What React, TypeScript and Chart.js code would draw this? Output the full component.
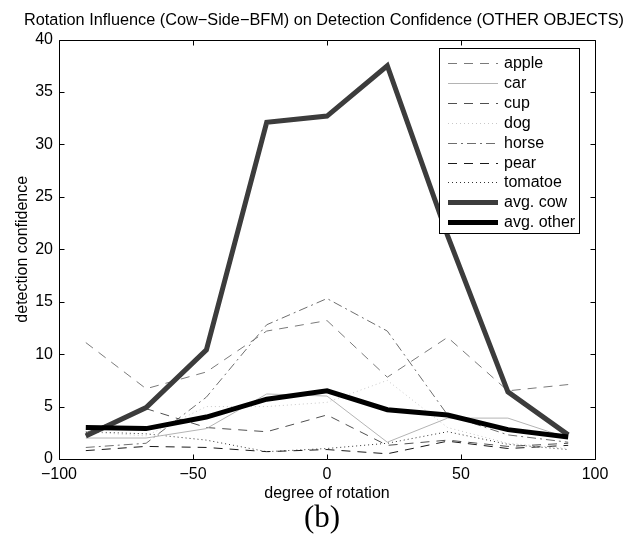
import React, { useEffect, useRef } from "react";
import { Chart, registerables } from "chart.js";

Chart.register(...registerables);

const angles = [-90, -67.5, -45, -22.5, 0, 22.5, 45, 67.5, 90];
const apple = [11.1, 6.7, 8.3, 12.2, 13.2, 7.8, 11.6, 6.5, 7.1];
const car = [2.0, 2.0, 2.9, 6.2, 6.0, 1.6, 3.9, 3.9, 2.0];
const cup = [2.5, 4.8, 3.0, 2.6, 4.2, 1.3, 1.8, 1.2, 1.5];
const dog = [2.6, 2.2, 5.0, 5.0, 5.4, 7.5, 3.0, 1.5, 1.0];
const horse = [1.1, 1.5, 5.9, 12.8, 15.3, 12.2, 4.2, 2.3, 1.6];
const pear = [0.8, 1.2, 1.1, 0.7, 0.9, 0.5, 1.7, 1.0, 1.3];
const tomatoe = [2.6, 2.4, 1.8, 0.7, 1.0, 1.5, 2.6, 1.4, 0.9];
const avgCow = [2.2, 4.9, 10.4, 32.1, 32.7, 37.5, 21.3, 6.4, 2.3];
const avgOther = [3.0, 2.9, 4.0, 5.7, 6.5, 4.7, 4.2, 2.8, 2.1];

const xTicks = [-100, -50, 0, 50, 100];
const yTicks = [0, 5, 10, 15, 20, 25, 30, 35, 40];

const titleText = "Rotation Influence (Cow\u2212Side\u2212BFM) on Detection Confidence (OTHER OBJECTS)";
const FONT = "'Liberation Sans', Arial, Helvetica, sans-serif";

const pts = (arr: number[]) => angles.map((x, i) => ({ x, y: arr[i] }));

const framePlugin = {
  id: "frame",
  afterDatasetsDraw(chart: any) {
    const { ctx, chartArea: a, scales } = chart;
    ctx.save();
    // title
    ctx.fillStyle = "#000";
    ctx.font = `16.3px ${FONT}`;
    ctx.textAlign = "center";
    ctx.textBaseline = "middle";
    ctx.fillText(titleText, 324, 21);

    ctx.strokeStyle = "#000";
    ctx.lineWidth = 1;
    ctx.setLineDash([]);
    ctx.beginPath();
    const L = Math.round(a.left) + 0.5, R = Math.round(a.right) + 0.5;
    const T = Math.round(a.top) + 0.5, B = Math.round(a.bottom) + 0.5;
    ctx.rect(L, T, R - L, B - T);
    const tl = 5;
    xTicks.forEach((v) => {
      const px = Math.round(scales.x.getPixelForValue(v)) + 0.5;
      ctx.moveTo(px, B); ctx.lineTo(px, B - tl);
      ctx.moveTo(px, T); ctx.lineTo(px, T + tl);
    });
    yTicks.forEach((v) => {
      const py = Math.round(scales.y.getPixelForValue(v)) + 0.5;
      ctx.moveTo(L, py); ctx.lineTo(L + tl, py);
      ctx.moveTo(R, py); ctx.lineTo(R - tl, py);
    });
    ctx.stroke();

    // legend
    const bx = 439.5, by = 48.5, bw = 140, bh = 185;
    ctx.fillStyle = "#fff";
    ctx.fillRect(bx, by, bw, bh);
    ctx.strokeRect(bx, by, bw, bh);
    ctx.font = `16px ${FONT}`;
    ctx.textBaseline = "middle";
    ctx.textAlign = "left";
    chart.data.datasets.forEach((ds: any, i: number) => {
      const y = Math.round(63 + i * 19.9) + 0.5;
      ctx.save();
      ctx.strokeStyle = ds.borderColor;
      ctx.lineWidth = ds.borderWidth;
      ctx.setLineDash(ds.borderDash || []);
      ctx.beginPath();
      ctx.moveTo(448, y);
      ctx.lineTo(498, y);
      ctx.stroke();
      ctx.restore();
      ctx.fillStyle = "#000";
      ctx.fillText(ds.label, 504, y);
    });
    ctx.restore();
  },
};

export default function App() {
  const ref = useRef<HTMLCanvasElement>(null);
  useEffect(() => {
    if (!ref.current) return;
    const mk = (label: string, data: number[], color: string, width: number, dash: number[], order = 0) => ({
      label,
      data: pts(data),
      borderColor: color,
      backgroundColor: color,
      borderWidth: width,
      borderDash: dash,
      pointRadius: 0,
      tension: 0,
      fill: false,
      order,
      borderJoinStyle: "miter" as const,
    });
    const chart = new Chart(ref.current, {
      type: "line",
      data: {
        datasets: [
          mk("apple", apple, "#7a7a7a", 1, [9, 7]),
          mk("car", car, "#b4b4b4", 1, []),
          mk("cup", cup, "#505050", 1, [9, 7]),
          mk("dog", dog, "#c8c8c8", 1, [1, 3]),
          mk("horse", horse, "#6e6e6e", 1, [9, 4, 2, 4]),
          mk("pear", pear, "#1a1a1a", 1, [9, 7]),
          mk("tomatoe", tomatoe, "#333333", 1, [1, 3]),
          mk("avg. cow", avgCow, "#3c3c3c", 5, [], -1),
          mk("avg. other", avgOther, "#000000", 5, [], -2),
        ],
      },
      options: {
        responsive: false,
        animation: false,
        events: [],
        layout: { padding: { left: 0, right: 41, top: 39.5, bottom: 0 } },
        plugins: {
          legend: { display: false },
          tooltip: { enabled: false },
          title: { display: false },
        },
        scales: {
          x: {
            type: "linear",
            min: -100,
            max: 100,
            afterFit: (s: any) => { s.height = 89; },
            afterBuildTicks: (s: any) => { s.ticks = xTicks.map((v) => ({ value: v })); },
            ticks: {
              color: "#000",
              font: { family: FONT, size: 16 },
              padding: 6,
              maxRotation: 0,
              callback: (v: any) => String(v).replace("-", "\u2212"),
            },
            grid: { display: false, drawTicks: false },
            border: { display: false },
            title: {
              display: true,
              text: "degree of rotation",
              color: "#000",
              font: { family: FONT, size: 16, lineHeight: 1.2 },
              padding: { top: 0, bottom: 45 },
            },
          },
          y: {
            type: "linear",
            min: 0,
            max: 40,
            afterFit: (s: any) => { s.width = 59; },
            afterBuildTicks: (s: any) => { s.ticks = yTicks.map((v) => ({ value: v })); },
            ticks: {
              color: "#000",
              font: { family: FONT, size: 16 },
              padding: 6,
            },
            grid: { display: false, drawTicks: false },
            border: { display: false },
            title: {
              display: true,
              text: "detection confidence",
              color: "#000",
              font: { family: FONT, size: 16, lineHeight: 1.2 },
              padding: { top: 13, bottom: 0 },
            },
          },
        },
      },
      plugins: [framePlugin],
    });
    return () => chart.destroy();
  }, []);

  return (
    <div style={{ position: "absolute", left: 0, top: 0, width: 636, height: 548, background: "#fff" }}>
      <canvas ref={ref} width={636} height={548} style={{ display: "block", width: 636, height: 548 }} />
      <div
        style={{
          position: "absolute",
          left: 272,
          width: 100,
          top: 498,
          textAlign: "center",
          fontFamily: "'Liberation Serif', 'Times New Roman', serif",
          fontSize: 31,
          lineHeight: "38px",
          color: "#000",
        }}
      >
        (b)
      </div>
    </div>
  );
}
